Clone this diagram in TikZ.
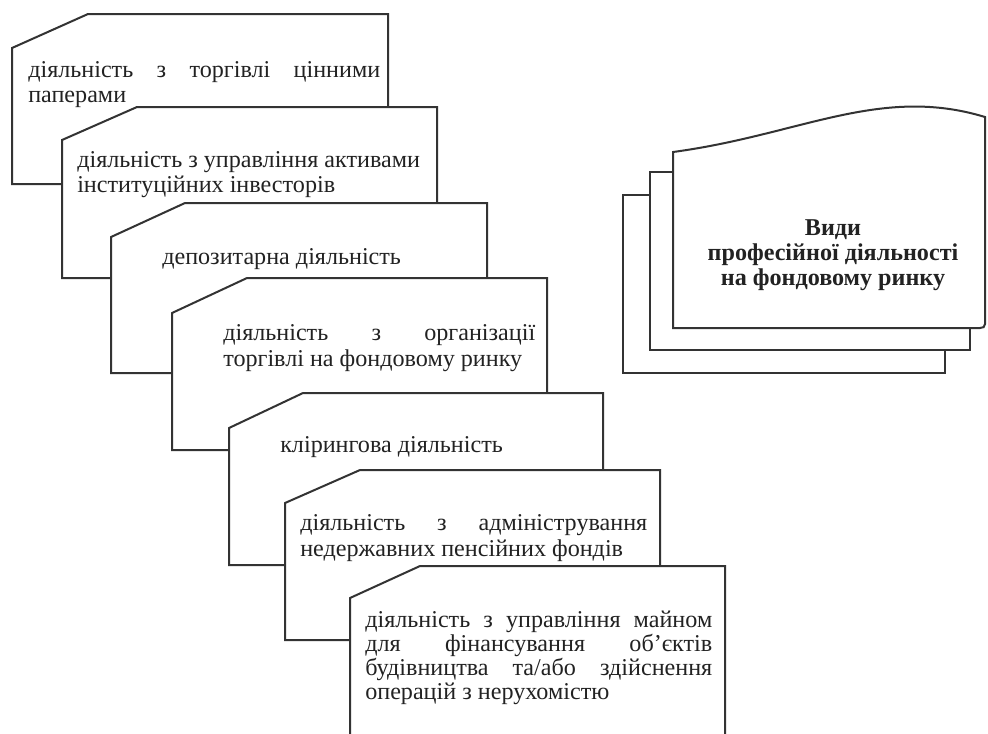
\documentclass[tikz,border=0pt]{standalone}
\usepackage{fontspec}
\setmainfont{Liberation Serif}
\definecolor{linecol}{HTML}{333333}
\definecolor{textcol}{HTML}{222222}
\newcommand\jline[2]{\makebox[#1][s]{#2}}
\begin{document}
\begin{tikzpicture}[x=0.75pt,y=-0.75pt,
  card/.style={draw=linecol,line width=1.5pt,fill=white,line join=miter},
  ctext/.style={anchor=base west,inner sep=0pt,font=\fontsize{18.1}{20}\selectfont,text=textcol},
  ttext/.style={anchor=base,inner sep=0pt,font=\fontsize{18.1}{20}\selectfont\bfseries,text=textcol}]
\useasboundingbox[fill=white] (0,0) rectangle (988,733);
\clip (0,0) rectangle (988,733);

% title: stacked documents
\draw[card] (623,195) -- (945,195) -- (945,373) -- (623,373) -- cycle;
\draw[card] (650,172) -- (970,172) -- (970,350) -- (650,350) -- cycle;
\draw[card] (673,152) .. controls (800,135) and (880,85) .. (985,117)
  -- (985,324) .. controls (985,327) and (983,328) .. (980,328) -- (673,328) -- cycle;
\node[ttext] (t1) at (833,235) {Види};
\node[ttext] (t2) at (833,260) {професійної діяльності};
\node[ttext] (t3) at (833,285) {на фондовому ринку};

% card 1
\draw[card] (12,48) -- (88,14) -- (388,14) -- (388,184) -- (12,184) -- cycle;
\node[ctext] (c1a) at (28,77) {\jline{264pt}{діяльність з торгівлі цінними}};
\node[ctext] (c1b) at (28,102) {паперами};

% card 2
\draw[card] (62,140) -- (137,107) -- (437,107) -- (437,278) -- (62,278) -- cycle;
\node[ctext] (c2a) at (77,167) {діяльність з управління активами};
\node[ctext] (c2b) at (77,192) {інституційних інвесторів};

% card 3
\draw[card] (111,237) -- (185,203) -- (487,203) -- (487,373) -- (111,373) -- cycle;
\node[ctext] (c3a) at (162,264) {депозитарна діяльність};

% card 4
\draw[card] (172,313) -- (247,278) -- (547,278) -- (547,450) -- (172,450) -- cycle;
\node[ctext] (c4a) at (223,340) {\jline{234pt}{діяльність з організації}};
\node[ctext] (c4b) at (223,366) {торгівлі на фондовому ринку};

% card 5
\draw[card] (229,428) -- (303,393) -- (603,393) -- (603,565) -- (229,565) -- cycle;
\node[ctext] (c5a) at (280,452) {клірингова діяльність};

% card 6
\draw[card] (285,503) -- (360,470) -- (660,470) -- (660,640) -- (285,640) -- cycle;
\node[ctext] (c6a) at (300,530) {\jline{260.25pt}{діяльність з адміністрування}};
\node[ctext] (c6b) at (300,556) {недержавних пенсійних фондів};

% card 7
\draw[card] (350,598) -- (420,566) -- (725,566) -- (725,760) -- (350,760) -- cycle;
\node[ctext] (c7a) at (365,627) {\jline{260.25pt}{діяльність з управління майном}};
\node[ctext] (c7b) at (365,651) {\jline{260.25pt}{для фінансування об’єктів}};
\node[ctext] (c7c) at (365,675) {\jline{260.25pt}{будівництва та/або здійснення}};
\node[ctext] (c7d) at (365,699) {операцій з нерухомістю};
\end{tikzpicture}
\end{document}
